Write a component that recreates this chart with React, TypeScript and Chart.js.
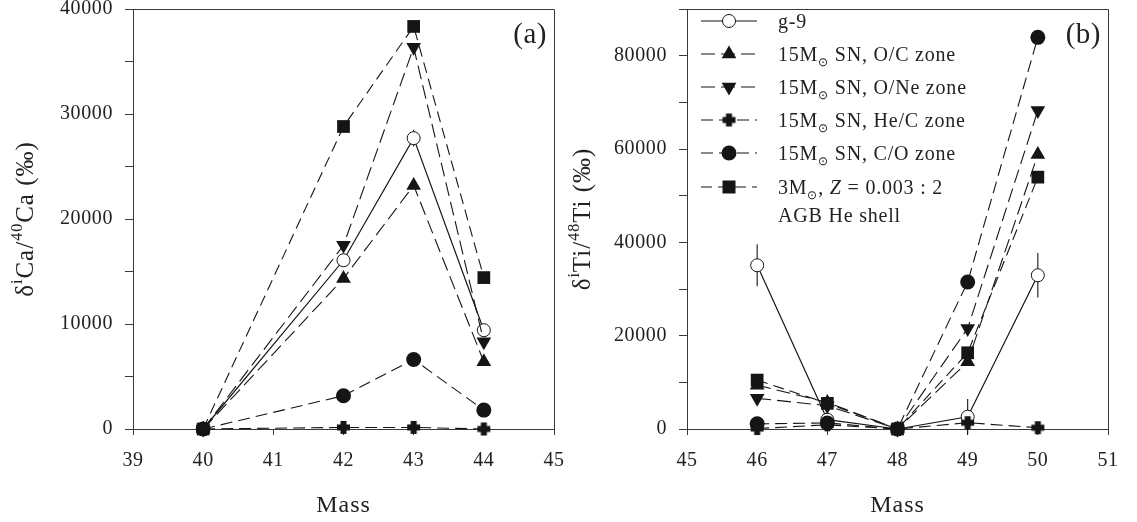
import React, { useEffect, useRef } from 'react';
import { Chart, registerables } from 'chart.js';

Chart.register(...registerables);

const FONT = '"Liberation Serif", "Times New Roman", serif';

// ---------- Data: panel (a) Ca ----------
const caMass = [40, 42, 43, 44];
const caG9 = [0, 16070, 27700, 9410];
const caG9Err = [0, 0, 800, 0];
const caOC = [0, 14330, 23200, 6400];
const caONe = [0, 17490, 36350, 8300];
const caHeC = [0, 150, 150, 0];
const caCO = [0, 3170, 6620, 1800];
const caAGB = [0, 28810, 38340, 14420];
const caXRange = [39, 45];
const caYRange = [0, 40000];
const caYStep = 5000;
const caYLabelStep = 10000;

// ---------- Data: panel (b) Ti ----------
const tiMass = [46, 47, 48, 49, 50];
const tiG9 = [35080, 2000, 0, 2630, 32940];
const tiG9Err = [4500, 2500, 0, 3800, 4750];
const tiOC = [9400, 5700, 0, 14400, 58820];
const tiONe = [6570, 5000, 0, 21540, 68240];
const tiHeC = [100, 900, 0, 1350, 280];
const tiCO = [1100, 1300, 0, 31510, 83920];
const tiAGB = [10480, 5500, 0, 16330, 53970];
const tiXRange = [45, 51];
const tiYRange = [0, 90000];
const tiYStep = 10000;
const tiYLabelStep = 20000;

// ---------- Series meta ----------
const seriesNames = [
  'g-9',
  '15M⊙ SN, O/C zone',
  '15M⊙ SN, O/Ne zone',
  '15M⊙ SN, He/C zone',
  '15M⊙ SN, C/O zone',
  '3M⊙, Z = 0.003 : 2',
];
const seriesNameExtra = 'AGB He shell';
const seriesMarkers = ['openCircle', 'triangle', 'triangleDown', 'plus', 'circle', 'rect'];
const seriesDashes: number[][] = [[], [14, 6], [14, 6], [12, 6], [12, 6], [11, 6]];

const INK = '#151515';
const AXIS = '#3a3a3a';

function makePlusCanvas() {
  const c = document.createElement('canvas');
  c.width = 15;
  c.height = 15;
  const g = c.getContext('2d')!;
  g.fillStyle = INK;
  g.beginPath();
  g.rect(1, 4.5, 13, 6);
  g.rect(4.5, 1, 6, 13);
  g.fill();
  return c;
}

function drawMarker(ctx: CanvasRenderingContext2D, kind: string, x: number, y: number, plus: HTMLCanvasElement) {
  ctx.save();
  ctx.setLineDash([]);
  ctx.fillStyle = INK;
  ctx.strokeStyle = INK;
  ctx.lineWidth = 1;
  ctx.beginPath();
  if (kind === 'openCircle') {
    ctx.arc(x, y, 6.5, 0, Math.PI * 2);
    ctx.fillStyle = '#fff';
    ctx.fill();
    ctx.stroke();
  } else if (kind === 'circle') {
    ctx.arc(x, y, 7.5, 0, Math.PI * 2);
    ctx.fill();
  } else if (kind === 'triangle' || kind === 'triangleDown') {
    const r = 8.5;
    const s = kind === 'triangle' ? 1 : -1;
    for (let k = 0; k < 3; k++) {
      const a = (k * 2 * Math.PI) / 3;
      const px = x + Math.sin(a) * r;
      const py = y - s * Math.cos(a) * r;
      if (k === 0) ctx.moveTo(px, py);
      else ctx.lineTo(px, py);
    }
    ctx.closePath();
    ctx.fill();
  } else if (kind === 'rect') {
    ctx.rect(x - 6.5, y - 6.5, 13, 13);
    ctx.fill();
  } else if (kind === 'plus') {
    ctx.drawImage(plus, x - plus.width / 2, y - plus.height / 2);
  }
  ctx.restore();
}

type Part = { t: string; s: number; dy?: number; it?: boolean };

function drawRich(ctx: CanvasRenderingContext2D, parts: Part[], x: number, y: number, align: 'left' | 'center' | 'right', spacing = 0) {
  ctx.save();
  ctx.textBaseline = 'alphabetic';
  ctx.textAlign = 'left';
  (ctx as any).letterSpacing = spacing + 'px';
  const widths = parts.map((p) => {
    ctx.font = `${p.it ? 'italic ' : ''}${p.s}px ${FONT}`;
    return ctx.measureText(p.t).width;
  });
  const total = widths.reduce((a, b) => a + b, 0);
  let cx = align === 'left' ? x : align === 'center' ? x - total / 2 : x - total;
  parts.forEach((p, i) => {
    ctx.font = `${p.it ? 'italic ' : ''}${p.s}px ${FONT}`;
    ctx.fillText(p.t, cx, y + (p.dy || 0));
    cx += widths[i];
  });
  ctx.restore();
}

function legendParts(name: string): Part[] {
  const out: Part[] = [];
  name.split(/(⊙|Z(?= =))/).forEach((tok) => {
    if (!tok) return;
    if (tok === '⊙') out.push({ t: '⊙', s: 12, dy: 5 });
    else if (tok === 'Z') out.push({ t: 'Z', s: 20, it: true });
    else out.push({ t: tok, s: 20 });
  });
  return out;
}

type PanelDef = {
  mass: number[];
  series: number[][];
  g9Err: number[];
  xRange: number[];
  yRange: number[];
  yStep: number;
  yLabelStep: number;
  yAxisWidth: number;
  padRight: number;
  titleParts: Part[];
  titleX: number;
  tag: string;
  tagX: number;
  legend: boolean;
};

function buildChart(canvas: HTMLCanvasElement, p: PanelDef) {
  const plus = makePlusCanvas();
  const styleFor = (kind: string) => {
    switch (kind) {
      case 'openCircle':
        return { pointStyle: 'circle', pointRadius: 6.5, pointBackgroundColor: '#fff', pointRotation: 0 };
      case 'circle':
        return { pointStyle: 'circle', pointRadius: 7.5, pointBackgroundColor: INK, pointRotation: 0 };
      case 'triangle':
        return { pointStyle: 'triangle', pointRadius: 8.5, pointBackgroundColor: INK, pointRotation: 0 };
      case 'triangleDown':
        return { pointStyle: 'triangle', pointRadius: 8.5, pointBackgroundColor: INK, pointRotation: 180 };
      case 'rect':
        return { pointStyle: 'rect', pointRadius: 9, pointBackgroundColor: INK, pointRotation: 0 };
      default:
        return { pointStyle: plus, pointRadius: 7, pointBackgroundColor: INK, pointRotation: 0 };
    }
  };

  const order = [1, 2, 3, 4, 5, 0];
  const datasets = order.map((si) => ({
    label: seriesNames[si],
    data: p.mass.map((m, i) => ({ x: m, y: p.series[si][i] })),
    borderColor: INK,
    borderWidth: si === 0 ? 1.2 : 1.1,
    borderDash: seriesDashes[si],
    pointBorderColor: INK,
    pointBorderWidth: si === 0 ? 1 : 0,
    pointHoverRadius: 0,
    fill: false,
    tension: 0,
    clip: false as any,
    ...styleFor(seriesMarkers[si]),
  }));

  const deco = {
    id: 'deco',
    beforeDraw(chart: any) {
      (chart.ctx as any).letterSpacing = '0.6px';
    },
    beforeDatasetsDraw(chart: any) {
      const { ctx, scales } = chart;
      ctx.save();
      ctx.strokeStyle = INK;
      ctx.lineWidth = 1.1;
      ctx.setLineDash([]);
      p.mass.forEach((m, i) => {
        const e = p.g9Err[i];
        if (!e) return;
        const x = scales.x.getPixelForValue(m);
        const y1 = scales.y.getPixelForValue(p.series[0][i] - e);
        const y2 = scales.y.getPixelForValue(p.series[0][i] + e);
        ctx.beginPath();
        ctx.moveTo(x, y1);
        ctx.lineTo(x, y2);
        ctx.stroke();
      });
      ctx.restore();
    },
    afterDraw(chart: any) {
      const { ctx, chartArea } = chart;
      const { left, right, top, bottom } = chartArea;
      ctx.save();
      (ctx as any).letterSpacing = '0px';
      ctx.strokeStyle = AXIS;
      ctx.lineWidth = 1;
      ctx.setLineDash([]);
      ctx.beginPath();
      ctx.moveTo(Math.round(left) + 0.5, Math.round(top) + 0.5);
      ctx.lineTo(Math.round(right) + 0.5, Math.round(top) + 0.5);
      ctx.lineTo(Math.round(right) + 0.5, Math.round(bottom) + 0.5);
      ctx.stroke();
      ctx.fillStyle = '#222';

      drawRich(ctx, [{ t: 'Mass', s: 24 }], (left + right) / 2, 512, 'center', 1);

      ctx.save();
      ctx.translate(p.titleX, (top + bottom) / 2);
      ctx.rotate(-Math.PI / 2);
      drawRich(ctx, p.titleParts, 0, 0, 'center', 1);
      ctx.restore();

      drawRich(ctx, [{ t: p.tag, s: 29 }], p.tagX, 43, 'right', 0.5);

      if (p.legend) {
        const x1 = left + 14;
        const x2 = left + 70;
        const mx = left + 42;
        const tx = left + 91;
        const rows = [21, 54, 87, 120, 153, 187];
        seriesNames.forEach((name, i) => {
          const y = rows[i];
          ctx.save();
          ctx.strokeStyle = INK;
          ctx.lineWidth = 1.1;
          ctx.setLineDash(seriesDashes[i]);
          ctx.beginPath();
          ctx.moveTo(x1, y);
          ctx.lineTo(x2, y);
          ctx.stroke();
          ctx.restore();
          drawMarker(ctx, seriesMarkers[i], mx, y, plus);
          ctx.fillStyle = '#222';
          drawRich(ctx, legendParts(name), tx, y + 7, 'left', 0.8);
        });
        drawRich(ctx, [{ t: seriesNameExtra, s: 20 }], tx, 222, 'left', 0.8);
      }
      ctx.restore();
    },
  };

  return new Chart(canvas, {
    type: 'line',
    data: { datasets: datasets as any },
    options: {
      animation: false,
      responsive: false,
      devicePixelRatio: 1,
      layout: { padding: { top: 8, right: p.padRight, left: 0, bottom: 0 } },
      plugins: { legend: { display: false }, tooltip: { enabled: false } },
      events: [],
      scales: {
        x: {
          type: 'linear',
          min: p.xRange[0],
          max: p.xRange[1],
          afterFit: (s: any) => {
            s.height = 93;
            s.paddingLeft = 0;
            s.paddingRight = 0;
          },
          ticks: {
            stepSize: 1,
            padding: 14,
            autoSkip: false,
            maxRotation: 0,
            color: '#222',
            font: { family: FONT, size: 20 },
            callback: (v: any) => String(v),
          },
          grid: { drawOnChartArea: false, drawTicks: true, tickLength: 6, color: AXIS, lineWidth: 1 },
          border: { display: true, color: AXIS, width: 1 },
        },
        y: {
          type: 'linear',
          min: p.yRange[0],
          max: p.yRange[1],
          afterFit: (s: any) => {
            s.width = p.yAxisWidth;
            s.paddingTop = 0;
            s.paddingBottom = 0;
          },
          ticks: {
            stepSize: p.yStep,
            padding: 12,
            color: '#222',
            font: { family: FONT, size: 20 },
            callback: (v: any) => (Number(v) % p.yLabelStep === 0 ? String(v) : ''),
          },
          grid: { drawOnChartArea: false, drawTicks: true, tickLength: 8, color: AXIS, lineWidth: 1 },
          border: { display: true, color: AXIS, width: 1 },
        },
      },
    } as any,
    plugins: [deco],
  });
}

const panelA: PanelDef = {
  mass: caMass,
  series: [caG9, caOC, caONe, caHeC, caCO, caAGB],
  g9Err: caG9Err,
  xRange: caXRange,
  yRange: caYRange,
  yStep: caYStep,
  yLabelStep: caYLabelStep,
  yAxisWidth: 133,
  padRight: 14,
  titleParts: [
    { t: 'δ', s: 25 },
    { t: 'i', s: 16, dy: -11 },
    { t: 'Ca/', s: 25 },
    { t: '40', s: 16, dy: -11 },
    { t: 'Ca (‰)', s: 25 },
  ],
  titleX: 33,
  tag: '(a)',
  tagX: 547,
  legend: false,
};

const panelB: PanelDef = {
  mass: tiMass,
  series: [tiG9, tiOC, tiONe, tiHeC, tiCO, tiAGB],
  g9Err: tiG9Err,
  xRange: tiXRange,
  yRange: tiYRange,
  yStep: tiYStep,
  yLabelStep: tiYLabelStep,
  yAxisWidth: 119,
  padRight: 29,
  titleParts: [
    { t: 'δ', s: 25 },
    { t: 'i', s: 16, dy: -11 },
    { t: 'Ti/', s: 25 },
    { t: '48', s: 16, dy: -11 },
    { t: 'Ti (‰)', s: 25 },
  ],
  titleX: 22,
  tag: '(b)',
  tagX: 533,
  legend: true,
};

function Panel({ def, left, width }: { def: PanelDef; left: number; width: number }) {
  const ref = useRef<HTMLCanvasElement>(null);
  useEffect(() => {
    const chart = buildChart(ref.current!, def);
    return () => chart.destroy();
  }, [def]);
  return (
    <canvas
      ref={ref}
      width={width}
      height={522}
      style={{ position: 'absolute', left, top: 0, width, height: 522 }}
    />
  );
}

export default function App() {
  return (
    <div style={{ position: 'fixed', left: 0, top: 0, width: 1137, height: 522, background: '#fff', overflow: 'hidden' }}>
      <Panel def={panelA} left={0} width={568} />
      <Panel def={panelB} left={568} width={569} />
    </div>
  );
}
